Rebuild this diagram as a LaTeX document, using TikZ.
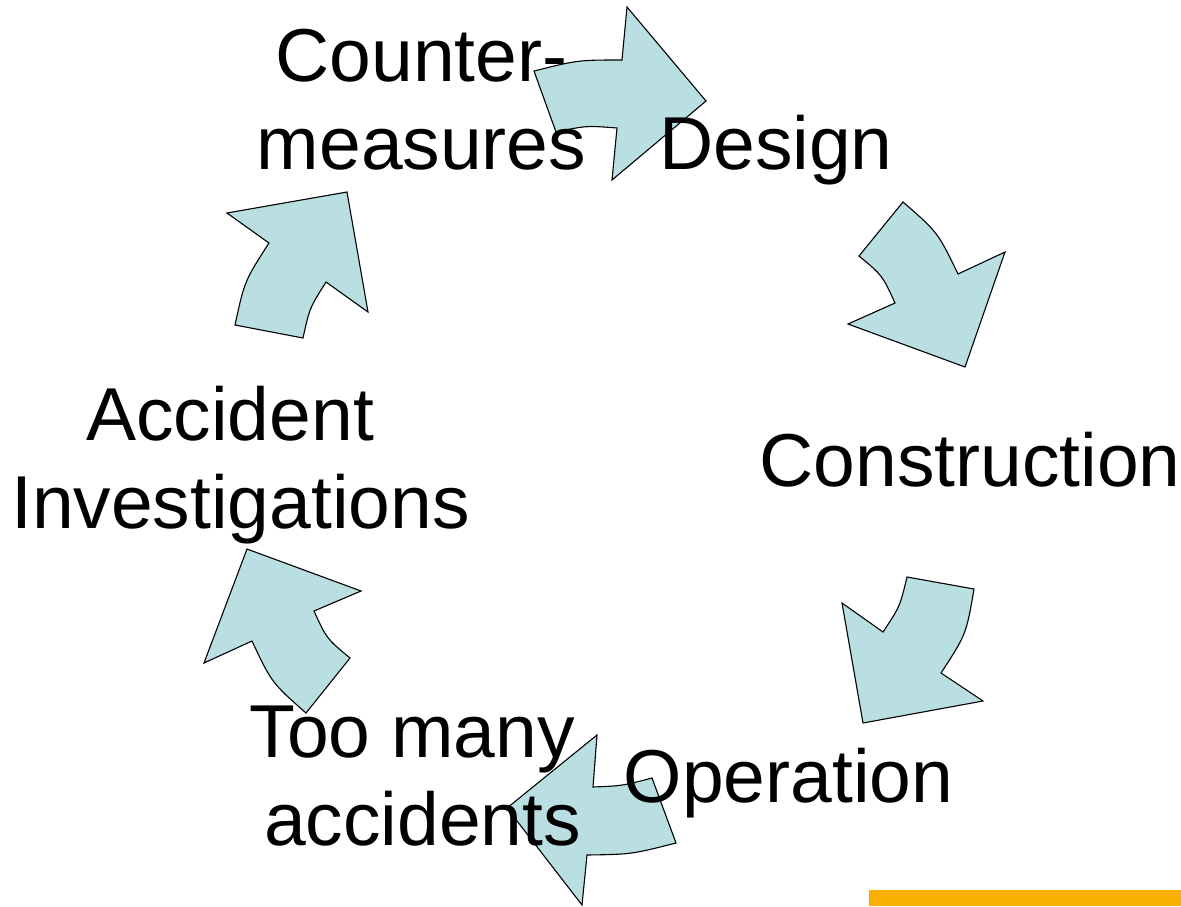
\documentclass[tikz,border=0pt]{standalone}
\usepackage{fontspec}
\setmainfont{Liberation Sans}
\definecolor{arrowfill}{HTML}{B9DFE3}
\definecolor{barorange}{HTML}{F9B000}
\begin{document}
\begin{tikzpicture}[x=1pt,y=-1pt,
  cyc/.style={draw=black, line width=1.1pt, line join=miter, fill=arrowfill},
  lbl/.style={inner sep=0pt, outer sep=0pt, anchor=base, font=\fontsize{75}{88}\selectfont}]
\useasboundingbox (0,0) rectangle (1181,906);
\fill[white] (0,0) rectangle (1181,906);

% arrows
% top: counter-measures -> design
\draw[cyc] (534,71) .. controls (578,60) .. (622,60) -- (627,7) -- (706,101) -- (612,180)
  -- (617,128) .. controls (586.5,125.6) .. (556,132) -- cycle;
% design -> construction
\draw[cyc] (903,202) .. controls (937.9,232.4) .. (958,274) -- (1005,252) -- (965,367)
  -- (848,324) -- (895,303) .. controls (882.4,275.4) .. (859,256) -- cycle;
% construction -> operation
\draw[cyc] (907,577) -- (974,589) .. controls (966.2,634.4) .. (941,673) -- (983,701)
  -- (863,723) -- (842,603) -- (883,632) .. controls (899.9,606.6) .. cycle;
% operation -> too many accidents
\draw[cyc] (652,778) -- (676,843) .. controls (631.5,854.3) .. (587,855) -- (582,905)
  -- (507,808) -- (597,735) -- (593,787) .. controls (622.5,785.8) .. cycle;
% too many accidents -> accident investigations
\draw[cyc] (247,549) -- (361,591) -- (314,611) .. controls (326.6,638.6) .. (350,658)
  -- (306,713) .. controls (271.6,682.6) .. (252,641) -- (204,663) -- cycle;
% accident investigations -> counter-measures
\draw[cyc] (227,213) -- (347,192) -- (368,312) -- (326,282) .. controls (309.6,308) .. (303,338)
  -- (235,325) .. controls (244.6,280.9) .. (269,243) -- cycle;

% labels
\node[lbl] (cm) at (421.5,81) {\begin{tabular}[t]{@{}c@{}}Counter-\\measures\end{tabular}};
\node[lbl] (des) at (776,169) {Design};
\node[lbl] (con) at (970,486) {Construction};
\node[lbl] (op) at (788.5,802) {Operation};
\node[lbl] (tma) at (422.5,757) {\begin{tabular}[t]{@{}c@{}}Too many\kern0.278em\\accidents\end{tabular}};
\node[lbl] (ai) at (240.5,440) {\begin{tabular}[t]{@{}c@{}}Accident\kern0.278em\\Investigations\end{tabular}};

% orange bar
\fill[barorange] (869,890) rectangle (1181,906);
\end{tikzpicture}
\end{document}
